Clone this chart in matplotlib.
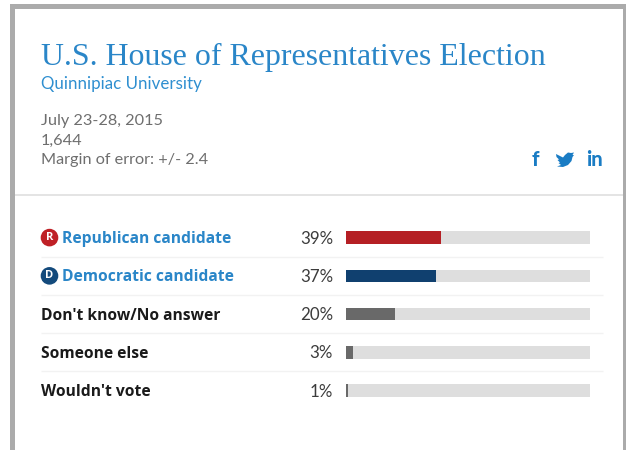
import matplotlib
matplotlib.use("Agg")
import matplotlib.pyplot as plt
from matplotlib.patches import Circle, Polygon, Rectangle

# Poll results
categories = ["Republican candidate", "Democratic candidate", "Don't know/No answer",
              "Someone else", "Wouldn't vote"]
values = [39, 37, 20, 3, 1]
bar_colors = ["#b51f24", "#10406f", "#696969", "#696969", "#696969"]
label_colors = ["#2a86c8", "#2a86c8", "#1a1a1a", "#1a1a1a", "#1a1a1a"]
party_badges = {"Republican candidate": ("R", "#bf2026"),
                "Democratic candidate": ("D", "#134a7c")}

title = "U.S. House of Representatives Election"
pollster = "Quinnipiac University"
poll_info = ["July 23-28, 2015", "1,644", "Margin of error: +/- 2.4"]

W, H = 626, 450
ROW_H = 38.25
FIRST_ROW = 237.6

plt.rcParams["font.family"] = ["Lato", "DejaVu Sans"]

fig = plt.figure(figsize=(W / 100, H / 100), dpi=100, facecolor="white")

# Full-figure axes in pixel units for the card and the text
ax = fig.add_axes([0, 0, 1, 1])
ax.set_xlim(0, W)
ax.set_ylim(H, 0)
ax.axis("off")

# Card border
border = "#ababab"
ax.add_patch(Rectangle((10, 4), W - 10, 5, color=border, lw=0))
ax.add_patch(Rectangle((10, 4), 5, H - 4, color=border, lw=0))
ax.add_patch(Rectangle((623, 4), 3, H - 4, color=border, lw=0))

# Header
ax.text(41, 57, title, family="Liberation Serif", fontsize=22.95, color="#2a86c8",
        va="center", ha="left")
ax.text(41, 84, pollster, fontsize=12.2, color="#2f8fd0", va="center", ha="left")
for y, line in zip([121, 140.5, 160], poll_info):
    ax.text(41, y, line, fontsize=11.7, color="#6e6e6e", va="center", ha="left")

# Share icons
icon_blue = "#1a7cc4"
ax.text(535.5, 160, "f", fontsize=15, fontweight="black", color=icon_blue,
        ha="center", va="center")
bird = [(556, 154), (559, 155.5), (563, 157.5), (565, 155), (568, 152.5), (571, 153),
        (574, 152.5), (572.5, 155), (574, 155), (572.5, 157), (571.5, 161), (568, 165),
        (563, 167), (557, 166.5), (561, 165), (558.5, 163), (560, 162.5), (557.5, 160),
        (559, 159.5), (556.5, 157)]
ax.add_patch(Polygon(bird, closed=True, color=icon_blue, lw=0))
ax.text(594.5, 160, "in", fontsize=14.5, fontweight="black", color=icon_blue,
        ha="center", va="center")

# Header divider
ax.plot([15, 623], [195, 195], color="#e2e2e2", lw=1.3, solid_capstyle="butt")

# Row labels, percentages and separators
for i, (name, val) in enumerate(zip(categories, values)):
    y = FIRST_ROW + i * ROW_H
    x_text = 41
    if name in party_badges:
        letter, col = party_badges[name]
        ax.add_patch(Circle((49.5, y), 8.8, color=col, lw=0))
        ax.text(49.5, y, letter, fontsize=8, fontweight="bold", color="white",
                family="Open Sans", ha="center", va="center")
        x_text = 62
    ax.text(x_text, y + 1.5, name, fontsize=11.25, fontweight="bold", color=label_colors[i],
            family="Open Sans", ha="left", va="center")
    ax.text(333, y + 1, f"{val}%", fontsize=12.2, color="#3c3c3c", ha="right", va="center")
    if i < len(categories) - 1:
        ax.plot([41, 603], [y + ROW_H / 2] * 2, color="#f2f2f2", lw=1,
                solid_capstyle="butt")

# Bars on a 0-100 scale
top = FIRST_ROW - ROW_H / 2
bar_ax = fig.add_axes([346 / W, 1 - (top + 5 * ROW_H) / H, 244 / W, 5 * ROW_H / H])
bar_ax.set_xlim(0, 100)
bar_ax.set_ylim(4.5, -0.5)
bar_ax.axis("off")
rows = range(len(values))
bar_ax.barh(rows, [100] * len(values), height=0.33, color="#dedede", lw=0)
bar_ax.barh(rows, values, height=0.33, color=bar_colors, lw=0)

fig.savefig("out.png", dpi=100)
